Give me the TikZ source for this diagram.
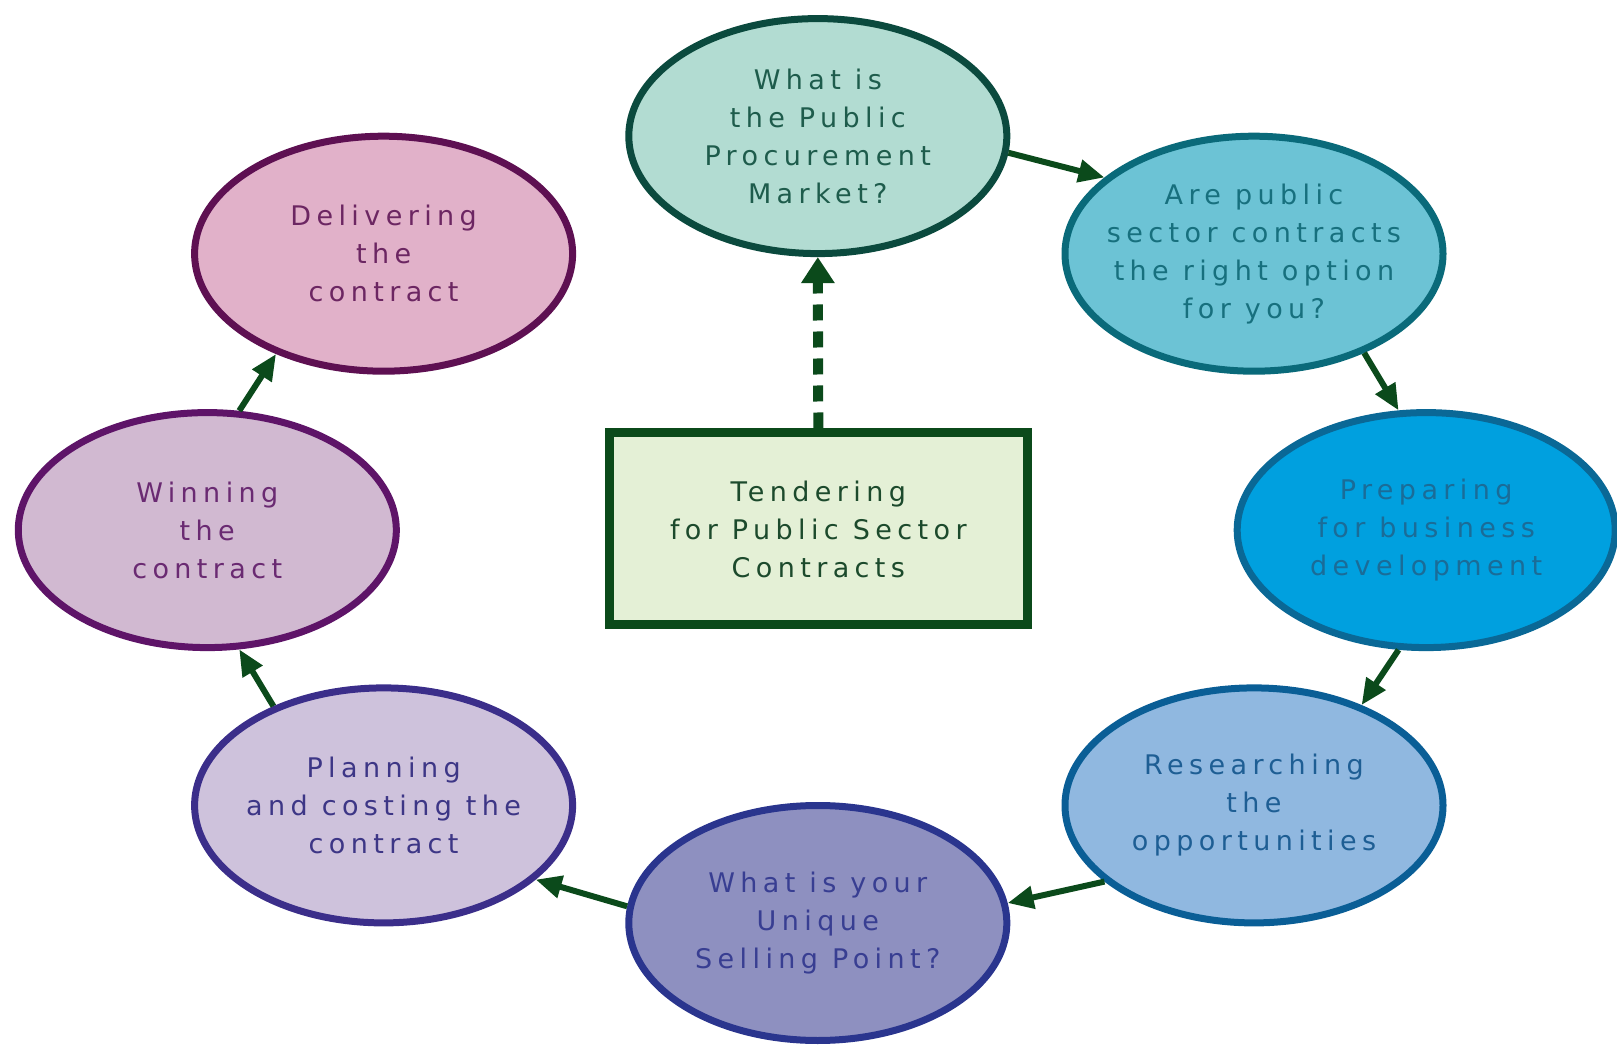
\documentclass[tikz,border=0pt]{standalone}
\usepackage{fontspec}
\newfontfamily\df[LetterSpace=20]{DejaVu Sans}
\usetikzlibrary{arrows.meta,shapes.geometric}
\definecolor{aF}{HTML}{B2DCD2}\definecolor{aD}{HTML}{0B4A3E}\definecolor{aT}{HTML}{1E5C4C}
\definecolor{bF}{HTML}{6CC3D5}\definecolor{bD}{HTML}{0A6A7A}\definecolor{bT}{HTML}{17707E}
\definecolor{cF}{HTML}{00A0DF}\definecolor{cD}{HTML}{0A6896}\definecolor{cT}{HTML}{1A6C98}
\definecolor{dF}{HTML}{90B8E0}\definecolor{dD}{HTML}{0A5E96}\definecolor{dT}{HTML}{1E5E94}
\definecolor{eF}{HTML}{8E90C0}\definecolor{eD}{HTML}{2A358E}\definecolor{eT}{HTML}{383E92}
\definecolor{fF}{HTML}{CEC2DC}\definecolor{fD}{HTML}{3B2E8A}\definecolor{fT}{HTML}{3D3686}
\definecolor{gF}{HTML}{D1B9D1}\definecolor{gD}{HTML}{5E1468}\definecolor{gT}{HTML}{6A2A72}
\definecolor{hF}{HTML}{E1B1C9}\definecolor{hD}{HTML}{5E1052}\definecolor{hT}{HTML}{6C2662}
\definecolor{boxF}{HTML}{E4F0D6}\definecolor{boxD}{HTML}{0B4A1A}\definecolor{boxT}{HTML}{1C4A2C}
\definecolor{arr}{HTML}{0B4A1B}
\tikzset{
  stage/.style={ellipse, minimum width=189pt, minimum height=117.5pt, line width=3.5pt,
    align=center, inner xsep=-14pt, inner ysep=0pt, font=\df\fontsize{13.5}{19}\selectfont},
  hub/.style={rectangle, minimum width=209pt, minimum height=96pt, line width=4.5pt,
    align=center, inner sep=0pt, font=\df\fontsize{13.5}{19}\selectfont,
    draw=boxD, fill=boxF, text=boxT},
  flow/.style={draw=arr, line width=3pt, -{Triangle[length=13pt,width=11pt]}},
  dflow/.style={draw=arr, line width=5pt, dash pattern=on 8pt off 5.5pt,
    -{Triangle[length=13pt,width=16pt]}}
}
\begin{document}
\begin{tikzpicture}[x=0.5pt,y=-0.5pt]
\useasboundingbox (0,0) rectangle (1617,1047);
\node[stage, draw=aD, fill=aF, text=aT] (n1) at (817.8,136.1) {What is\\the Public\\Procurement\\Market?};
\node[stage, draw=bD, fill=bF, text=bT] (n2) at (1254,253.7) {Are public\\sector contracts\\the right option\\for you?};
\node[stage, draw=cD, fill=cF, text=cT] (n3) at (1426.2,530.1) {Preparing\\for business\\development};
\node[stage, draw=dD, fill=dF, text=dT] (n4) at (1254,805.4) {Researching\\the\\opportunities};
\node[stage, draw=eD, fill=eF, text=eT] (n5) at (817.8,923) {What is your\\Unique\\Selling Point?};
\node[stage, draw=fD, fill=fF, text=fT] (n6) at (383.6,805.4) {Planning\\and costing the\\contract};
\node[stage, draw=gD, fill=gF, text=gT] (n7) at (207.3,530.1) {Winning\\the\\contract};
\node[stage, draw=hD, fill=hF, text=hT] (n8) at (383.6,253.7) {Delivering\\the\\contract};
\node[hub] (hub) at (818.3,529) {Tendering\\for Public Sector\\Contracts};
\draw[flow] (n1.-5.5) -- (n2.153);
\draw[flow] (n2.-42.8) -- (n3.103);
\draw[flow] (n3.-103) -- (n4.43.3);
\draw[flow] (n4.-153) -- (n5.6);
\draw[flow] (n5.175) -- (n6.-26);
\draw[flow] (n6.138) -- (n7.-75);
\draw[flow] (n7.75) -- (n8.-137);
\draw[dflow] (hub.north) -- (n1.south);
\end{tikzpicture}
\end{document}
